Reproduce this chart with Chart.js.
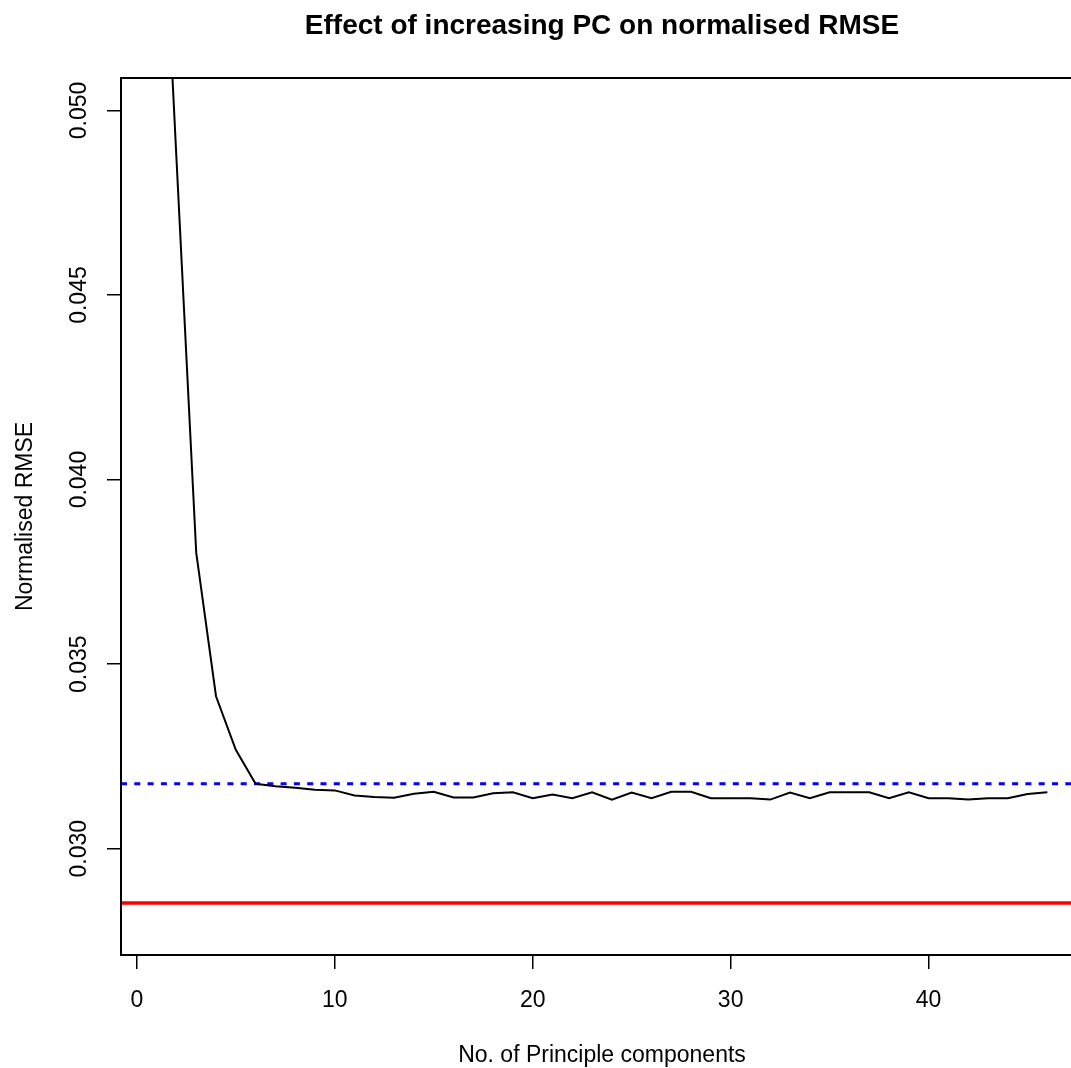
<!DOCTYPE html>
<html>
<head>
<meta charset="utf-8">
<script src="https://cdn.jsdelivr.net/npm/chart.js@4/dist/chart.umd.min.js"></script>
<style>
  html, body { margin: 0; padding: 0; background: #fff; overflow: hidden; }
  #wrap { position: relative; width: 1110px; height: 1068px; }
</style>
</head>
<body>
<div id="wrap"><canvas id="chart"></canvas></div>
<script>
"use strict";

// number of principal components kept
const pcs = [1, 2, 3, 4, 5, 6, 7, 8, 9, 10, 11, 12, 13, 14, 15, 16, 17, 18, 19, 20, 21, 22, 23,
  24, 25, 26, 27, 28, 29, 30, 31, 32, 33, 34, 35, 36, 37, 38, 39, 40, 41, 42, 43, 44, 45, 46];

// normalised RMSE
const rmse = [0.05955, 0.04872, 0.03802, 0.03413, 0.03268, 0.03176, 0.03169, 0.03165, 0.03160,
  0.03158, 0.03144, 0.03140, 0.03138, 0.03149, 0.03154, 0.03139, 0.03139, 0.03150, 0.03153,
  0.03137, 0.03147, 0.03137, 0.03153, 0.03133, 0.03152, 0.03137, 0.03154, 0.03154, 0.03137,
  0.03137, 0.03137, 0.03133, 0.03152, 0.03137, 0.03153, 0.03153, 0.03153, 0.03137, 0.03153,
  0.03137, 0.03137, 0.03133, 0.03137, 0.03137, 0.03148, 0.03153];

const refLevel = 0.031761;   // blue dotted reference
const baseLevel = 0.02853;   // red baseline

const xTicks = [0, 10, 20, 30, 40];
const yTicks = [0.030, 0.035, 0.040, 0.045, 0.050];
const xLimits = [-0.8, 47.8];
const yLimits = [0.02712, 0.05088];

const titleText = "Effect of increasing PC on normalised RMSE";
const xTitle = "No. of Principle components";
const yTitle = "Normalised RMSE";

const FONT = "'Liberation Sans', Arial, Helvetica, sans-serif";

// text, box and tick labels drawn R-style
const rStyle = {
  id: "rStyle",
  afterDraw(chart) {
    const ctx = chart.ctx;
    const area = chart.chartArea;
    const xs = chart.scales.x;
    const ys = chart.scales.y;
    ctx.save();
    ctx.strokeStyle = "#000";
    ctx.lineWidth = 2;
    ctx.strokeRect(area.left, area.top, area.right - area.left, area.bottom - area.top);

    ctx.fillStyle = "#000";
    ctx.font = "23px " + FONT;
    ctx.textAlign = "center";
    ctx.textBaseline = "alphabetic";
    xTicks.forEach(v => {
      ctx.fillText(String(v), xs.getPixelForValue(v), 1007);
    });
    yTicks.forEach(v => {
      ctx.save();
      ctx.translate(86, ys.getPixelForValue(v));
      ctx.rotate(-Math.PI / 2);
      ctx.fillText(v.toFixed(3), 0, 0);
      ctx.restore();
    });

    const midX = (area.left + area.right) / 2;
    const midY = (area.top + area.bottom) / 2;
    ctx.fillText(xTitle, midX, 1062);
    ctx.save();
    ctx.translate(32, midY);
    ctx.rotate(-Math.PI / 2);
    ctx.fillText(yTitle, 0, 0);
    ctx.restore();

    ctx.font = "bold 28px " + FONT;
    ctx.fillText(titleText, midX, 34);
    ctx.restore();
  }
};

function renderChart() {
  const ctx = document.getElementById("chart");

  new Chart(ctx, {
    type: "line",
    data: {
      datasets: [
        {
          data: pcs.map((p, i) => ({ x: p, y: rmse[i] })),
          borderColor: "#000",
          borderWidth: 2,
          pointRadius: 0,
          tension: 0,
        },
        {
          data: xLimits.map(x => ({ x: x, y: refLevel })),
          borderColor: "#0000ff",
          borderWidth: 3,
          borderDash: [6, 7.3],
          borderCapStyle: "butt",
          pointRadius: 0,
        },
        {
          data: xLimits.map(x => ({ x: x, y: baseLevel })),
          borderColor: "#ff0000",
          borderWidth: 3.5,
          pointRadius: 0,
        },
      ],
    },
    options: {
      responsive: true,
      maintainAspectRatio: false,
      animation: false,
      devicePixelRatio: 1,
      layout: { padding: { top: 78, right: 27, left: 0, bottom: 0 } },
      plugins: {
        legend: { display: false },
        tooltip: { enabled: false },
        title: { display: false },
      },
      scales: {
        x: {
          type: "linear",
          min: xLimits[0],
          max: xLimits[1],
          afterBuildTicks: s => { s.ticks = xTicks.map(v => ({ value: v })); },
          afterFit: s => { s.height = 113; },
          ticks: { display: false },
          border: { display: false },
          grid: {
            drawOnChartArea: false,
            drawTicks: true,
            tickLength: 14,
            color: "#000",
            lineWidth: 1.5,
          },
        },
        y: {
          type: "linear",
          min: yLimits[0],
          max: yLimits[1],
          afterBuildTicks: s => { s.ticks = yTicks.map(v => ({ value: v })); },
          afterFit: s => { s.width = 121; },
          ticks: { display: false },
          border: { display: false },
          grid: {
            drawOnChartArea: false,
            drawTicks: true,
            tickLength: 14,
            color: "#000",
            lineWidth: 1.5,
          },
        },
      },
    },
    plugins: [rStyle],
  });
}

renderChart();
</script>
</body>
</html>
